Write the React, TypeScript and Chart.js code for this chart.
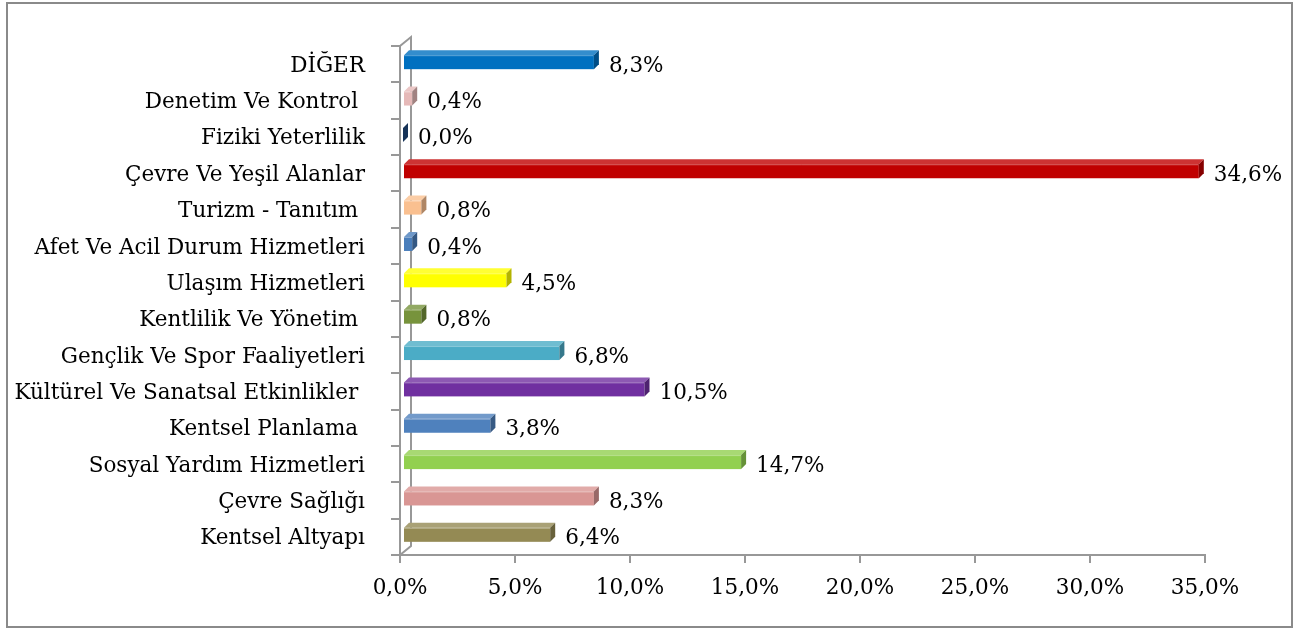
import React, { useEffect, useRef } from "react";
import { Chart, registerables } from "chart.js";

Chart.register(...registerables);

const categories: string[] = [
  "DİĞER",
  "Denetim Ve Kontrol ",
  "Fiziki Yeterlilik",
  "Çevre Ve Yeşil Alanlar",
  "Turizm - Tanıtım ",
  "Afet Ve Acil Durum Hizmetleri",
  "Ulaşım Hizmetleri",
  "Kentlilik Ve Yönetim ",
  "Gençlik Ve Spor Faaliyetleri",
  "Kültürel Ve Sanatsal Etkinlikler ",
  "Kentsel Planlama ",
  "Sosyal Yardım Hizmetleri",
  "Çevre Sağlığı",
  "Kentsel Altyapı",
];

const values: number[] = [8.3, 0.4, 0.0, 34.6, 0.8, 0.4, 4.5, 0.8, 6.8, 10.5, 3.8, 14.7, 8.3, 6.4];

const barColors: string[] = [
  "#0070C0",
  "#E6B9B8",
  "#1F497D",
  "#C00000",
  "#FAC090",
  "#4A7EBB",
  "#FFFF00",
  "#77933C",
  "#4BACC6",
  "#7030A0",
  "#4F81BD",
  "#92D050",
  "#D99694",
  "#948A54",
];

const xMin = 0;
const xMax = 35;
const xStep = 5;

const FONT = "'DejaVu Serif', serif";
const FONT_SIZE = 21.5;
const AXIS_COLOR = "#989898";
const DEPTH = 5;
const WALL_DX = 11;
const WALL_DY = 9;
const BAR_OX = 3;
const BAR_OY = -2;

function fmt(v: number): string {
  return v.toFixed(1).replace(".", ",") + "%";
}

function shade(hex: string, f: number): string {
  const n = parseInt(hex.slice(1), 16);
  let r = (n >> 16) & 255, g = (n >> 8) & 255, b = n & 255;
  if (f >= 0) {
    r = Math.round(r + (255 - r) * f);
    g = Math.round(g + (255 - g) * f);
    b = Math.round(b + (255 - b) * f);
  } else {
    r = Math.round(r * (1 + f));
    g = Math.round(g * (1 + f));
    b = Math.round(b * (1 + f));
  }
  return `rgb(${r},${g},${b})`;
}

const framePlugin = {
  id: "frame3d",
  beforeDraw(chart: any) {
    const { ctx, width, height } = chart;
    ctx.save();
    ctx.fillStyle = "#ffffff";
    ctx.fillRect(0, 0, width, height);
    ctx.strokeStyle = "#8a8a8a";
    ctx.lineWidth = 2;
    ctx.strokeRect(7, 3, width - 14, height - 6);
    ctx.restore();
  },
  beforeDatasetsDraw(chart: any) {
    const { ctx, chartArea } = chart;
    const { left, top, bottom } = chartArea;
    ctx.save();
    ctx.strokeStyle = AXIS_COLOR;
    ctx.lineWidth = 2;
    ctx.beginPath();
    ctx.moveTo(left, top);
    ctx.lineTo(left + WALL_DX, top - WALL_DY);
    ctx.lineTo(left + WALL_DX, bottom - WALL_DY);
    ctx.lineTo(left, bottom);
    ctx.stroke();
    ctx.restore();
  },
  beforeDatasetDraw() {
    return false;
  },
  afterDatasetsDraw(chart: any) {
    const { ctx } = chart;
    const meta = chart.getDatasetMeta(0);
    ctx.save();
    meta.data.forEach((el: any, i: number) => {
      const p = el.getProps(["x", "y", "base", "height"], true);
      const color = barColors[i];
      const x0 = p.base + BAR_OX;
      const x1 = p.x + BAR_OX;
      const t = p.y - p.height / 2 + BAR_OY;
      const b = p.y + p.height / 2 + BAR_OY;
      if (x1 > x0) {
        ctx.fillStyle = color;
        ctx.fillRect(x0, t, x1 - x0, b - t);
        ctx.fillStyle = shade(color, 0.2);
        ctx.beginPath();
        ctx.moveTo(x0, t);
        ctx.lineTo(x0 + DEPTH, t - DEPTH);
        ctx.lineTo(x1 + DEPTH, t - DEPTH);
        ctx.lineTo(x1, t);
        ctx.closePath();
        ctx.fill();
        ctx.strokeStyle = shade(color, 0.35);
        ctx.lineWidth = 1;
        ctx.beginPath();
        ctx.moveTo(x0, t + 0.5);
        ctx.lineTo(x1, t + 0.5);
        ctx.stroke();
      }
      ctx.fillStyle = shade(color, -0.3);
      ctx.beginPath();
      ctx.moveTo(x1, t);
      ctx.lineTo(x1 + DEPTH, t - DEPTH);
      ctx.lineTo(x1 + DEPTH, b - DEPTH);
      ctx.lineTo(x1, b);
      ctx.closePath();
      ctx.fill();
      ctx.fillStyle = "#000000";
      ctx.font = `${FONT_SIZE}px ${FONT}`;
      ctx.textAlign = "left";
      ctx.textBaseline = "middle";
      ctx.fillText(fmt(values[i]), p.x + BAR_OX + DEPTH + 10, p.y + 2);
    });
    ctx.restore();
  },
};

export default function App() {
  const ref = useRef<HTMLCanvasElement | null>(null);

  useEffect(() => {
    if (!ref.current) return;
    const chart = new Chart(ref.current, {
      type: "bar",
      data: {
        labels: categories,
        datasets: [
          {
            data: values,
            backgroundColor: barColors,
            barThickness: 14,
          },
        ],
      },
      options: {
        indexAxis: "y",
        responsive: false,
        animation: false,
        devicePixelRatio: 1,
        layout: { padding: { left: 0, right: 94, top: 46, bottom: 0 } },
        plugins: {
          legend: { display: false },
          tooltip: { enabled: false },
          title: { display: false },
        },
        scales: {
          x: {
            type: "linear",
            min: xMin,
            max: xMax,
            afterFit: (s: any) => {
              s.height = 75;
            },
            afterBuildTicks: (s: any) => {
              const t = [];
              for (let v = xMin; v <= xMax; v += xStep) t.push({ value: v });
              s.ticks = t;
            },
            ticks: {
              color: "#000000",
              font: { family: FONT, size: FONT_SIZE },
              padding: 13,
              maxRotation: 0,
              callback: (v: any) => fmt(Number(v)),
            },
            grid: {
              drawOnChartArea: false,
              drawTicks: true,
              tickLength: 8,
              color: AXIS_COLOR,
              lineWidth: 2,
            },
            border: { display: true, color: AXIS_COLOR, width: 2 },
          },
          y: {
            type: "category",
            afterFit: (s: any) => {
              s.width = 400;
            },
            ticks: {
              color: "#000000",
              font: { family: FONT, size: FONT_SIZE },
              padding: 26,
              labelOffset: 2,
              autoSkip: false,
            },
            grid: {
              offset: true,
              drawOnChartArea: false,
              drawTicks: true,
              tickLength: 9,
              color: AXIS_COLOR,
              lineWidth: 2,
            },
            border: { display: true, color: AXIS_COLOR, width: 2 },
          },
        },
      },
      plugins: [framePlugin],
    } as any);
    return () => chart.destroy();
  }, []);

  return (
    <div style={{ position: "fixed", left: 0, top: 0, width: 1299, height: 630, background: "#fff" }}>
      <canvas ref={ref} width={1299} height={630} style={{ display: "block", width: 1299, height: 630 }} />
    </div>
  );
}
